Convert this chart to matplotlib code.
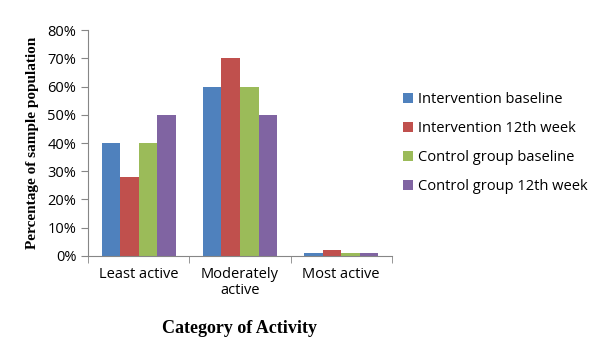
import numpy as np
import matplotlib
matplotlib.use("Agg")
import matplotlib.pyplot as plt
from matplotlib.ticker import FixedLocator, PercentFormatter

categories = ["Least active", "Moderately\nactive", "Most active"]
series_names = ["Intervention baseline", "Intervention 12th week",
                "Control group baseline", "Control group 12th week"]
int_base = [40, 60, 1]
int_12 = [28, 70, 2]
ctl_base = [40, 60, 1]
ctl_12 = [50, 50, 1]
colors = ["#4F81BD", "#C0504D", "#9BBB59", "#8064A2"]

plt.rcParams['font.family'] = ['Open Sans', 'DejaVu Sans']

fig = plt.figure(figsize=(6, 3.58), dpi=100)
ax = fig.add_axes([0.147, 0.285, 0.506, 0.631])

values = [int_base, int_12, ctl_base, ctl_12]
x = np.arange(len(categories))
w = 0.183
for i, (vals, name, c) in enumerate(zip(values, series_names, colors)):
    ax.bar(x + (i - 1.5) * w, vals, w, color=c, label=name, edgecolor='none')

ax.set_xlim(-0.5, 2.5)
ax.set_ylim(0, 80)
ax.set_yticks(np.arange(0, 81, 10))
ax.yaxis.set_major_formatter(PercentFormatter(decimals=0))
ax.set_xticks(x)
ax.set_xticklabels(categories, fontsize=10.5, linespacing=1.1)
ax.xaxis.set_minor_locator(FixedLocator([-0.5, 0.5, 1.5, 2.5]))
ax.tick_params(axis='x', which='major', length=0, pad=8)
ax.tick_params(axis='x', which='minor', length=5, color='#868686', direction='out')
ax.tick_params(axis='y', length=5, color='#868686', labelsize=10.5, direction='out')

for s in ['top', 'right']:
    ax.spines[s].set_visible(False)
for s in ['left', 'bottom']:
    ax.spines[s].set_color('#868686')

ax.set_ylabel("Percentage of sample population", fontsize=11, fontweight='bold',
              family='Liberation Serif', labelpad=6)
ax.set_xlabel("Category of Activity", fontsize=13, fontweight='bold',
              family='Liberation Serif', labelpad=16)

fig.legend(loc='center left', bbox_to_anchor=(0.65, 0.45, 0.34, 0.3),
           frameon=False, fontsize=10.5, handlelength=0.7, handleheight=0.7,
           handletextpad=0.3, labelspacing=0.95)

fig.savefig("out.png", dpi=100)
